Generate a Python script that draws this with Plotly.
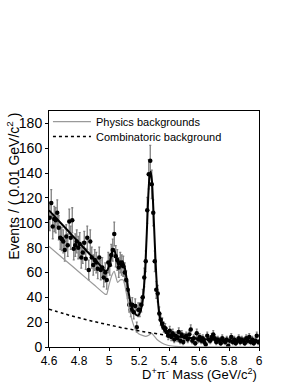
import numpy as np
import plotly.graph_objects as go

# ---- data: D*pi mass spectrum, 0.01 GeV bins from 4.60 to 6.00 ----
bin_lo = 4.60
bin_w = 0.01
counts_a = [104, 116, 97, 103, 102, 108, 96, 88, 87, 85,
            78, 89, 82, 101, 88, 102, 79, 82, 85, 80,
            83, 72, 76, 84, 71, 88, 62, 85, 72, 66,
            70, 68, 63, 72, 62, 64, 56, 60]
counts_b = [54, 68, 66, 74, 78, 91, 73, 70, 64, 68,
            66, 65, 60, 54, 46, 34, 30, 34, 28, 33,
            16, 30, 30, 34, 40, 56, 69, 110, 139, 150,
            131, 108]
counts_c = [69, 46, 43, 27, 22, 19, 16, 15, 12, 9,
            13, 8, 11, 6, 9, 7, 12, 5, 10, 4,
            8, 9, 6, 10, 14, 5, 7, 3, 11, 6,
            8, 5, 7, 4, 2, 9, 6, 5, 8, 10,
            7, 4, 6, 5, 3, 7, 5, 4, 6, 1,
            5, 8, 4, 6, 3, 5, 7, 4, 6, 5,
            3, 7, 5, 8, 4, 6, 3, 5, 9, 4]
counts = np.array(counts_a + counts_b + counts_c, dtype=float)
mass = bin_lo + bin_w * (np.arange(len(counts)) + 0.5)
errors = np.sqrt(counts)

# total fit
fit_x = [4.60, 4.65, 4.70, 4.75, 4.80, 4.85, 4.90, 4.95, 4.975, 4.99,
         5.005, 5.02, 5.033, 5.047, 5.062, 5.078, 5.09, 5.105, 5.12, 5.135,
         5.15, 5.165, 5.18, 5.195, 5.21, 5.225, 5.24, 5.252, 5.262, 5.27,
         5.278, 5.286, 5.295, 5.305, 5.315, 5.325, 5.335, 5.35, 5.37, 5.40,
         5.45, 5.50, 5.60, 5.70, 5.80, 5.90, 6.00]
fit_y = [110, 103.5, 97, 90.5, 84, 77.5, 71, 64.5, 61, 62,
         68, 76, 79, 73, 66, 68, 69, 64, 53, 41,
         33, 28.5, 26, 25.5, 29, 38, 60, 92, 122, 137,
         141, 134, 113, 84, 58, 39, 27, 18, 13, 10.3,
         8.9, 7.9, 6.7, 5.8, 5.1, 4.6, 4.2]

# physics backgrounds
phys_x = [4.60, 4.70, 4.80, 4.90, 4.975, 4.985, 5.00, 5.02, 5.035, 5.045,
          5.058, 5.075, 5.095, 5.11, 5.125, 5.14, 5.16, 5.18, 5.20, 5.22,
          5.245, 5.265, 5.285, 5.30, 5.32, 5.35, 5.38, 5.42, 5.47, 5.55, 6.00]
phys_y = [81, 70.7, 60.4, 50.1, 42.4, 42.5, 50, 58, 61, 57,
          52, 54, 54, 47, 37, 28, 19, 13, 10.5, 9.5,
          8.5, 9.5, 11, 9, 6, 3.5, 1.8, 0.8, 0.3, 0.1, 0.0]

# combinatoric background
comb_x = [4.6, 4.7, 4.8, 4.9, 5.0, 5.1, 5.2, 5.3, 5.4, 5.5, 5.6, 5.7, 5.8, 5.9, 6.0]
comb_y = [30.5, 26.8, 23.5, 20.5, 17.8, 15.2, 13.0, 11.0, 9.3, 7.8, 6.6, 5.7, 5.0, 4.5, 4.1]

x_ticks = [4.6, 4.8, 5.0, 5.2, 5.4, 5.6, 5.8, 6.0]
x_tick_text = ["4.6", "4.8", "5", "5.2", "5.4", "5.6", "5.8", "6"]
y_ticks = [0, 20, 40, 60, 80, 100, 120, 140, 160, 180]

FONT = "Liberation Sans, Arial, Helvetica, sans-serif"

fig = go.Figure()

fig.add_trace(go.Scatter(
    x=mass, y=counts, mode="markers",
    marker=dict(color="black", size=4.5),
    error_y=dict(type="data", array=errors, color="#808080", thickness=1.3, width=1),
    showlegend=False,
))
fig.add_trace(go.Scatter(
    x=phys_x, y=phys_y, mode="lines", name="Physics backgrounds",
    line=dict(color="#9a9a9a", width=1.2, shape="spline", smoothing=0.5),
    legend="legend",
))
fig.add_trace(go.Scatter(
    x=comb_x, y=comb_y, mode="lines", name="Combinatoric background",
    line=dict(color="black", width=1.5, dash="dot", shape="spline"),
    legend="legend2",
))
fig.add_trace(go.Scatter(
    x=fit_x, y=fit_y, mode="lines", showlegend=False,
    line=dict(color="black", width=2, shape="spline", smoothing=0.6),
))

leg_common = dict(xanchor="left", yanchor="middle", bgcolor="rgba(0,0,0,0)",
                  font=dict(size=11, family=FONT), itemwidth=38)
fig.update_layout(
    width=295, height=382,
    margin=dict(l=49, r=36, t=111, b=35),
    paper_bgcolor="white", plot_bgcolor="white",
    font=dict(family=FONT, color="black"),
    legend=dict(x=-0.005, y=0.955, **leg_common),
    legend2=dict(x=-0.005, y=0.892, **leg_common),
)
fig.update_xaxes(
    range=[4.6, 6.0], tickvals=x_ticks, ticktext=x_tick_text,
    showgrid=False, zeroline=False, showline=True, linecolor="black", linewidth=1,
    mirror=True, ticks="outside", ticklen=3, tickcolor="black",
    tickfont=dict(size=12, family=FONT),
)
fig.update_yaxes(
    range=[0, 190], tickvals=y_ticks,
    showgrid=False, zeroline=False, showline=True, linecolor="black", linewidth=1,
    mirror=True, ticks="outside", ticklen=3, tickcolor="black",
    tickfont=dict(size=14, family=FONT),
)
fig.add_annotation(
    text="Events / ( 0.01 GeV/c<sup>2</sup> )", textangle=-90,
    xref="paper", yref="paper", x=-0.175, y=1.0, xanchor="center", yanchor="top",
    showarrow=False, font=dict(size=14, family=FONT),
)
fig.add_annotation(
    text="D<sup>+</sup>π<sup>-</sup> Mass (GeV/c<sup>2</sup>)",
    xref="paper", yref="paper", x=1.0, y=-0.116, xanchor="right", yanchor="middle",
    showarrow=False, font=dict(size=13, family=FONT),
)

fig.write_html(
    "out.html",
    config={"displayModeBar": False},
    post_script="document.body.style.margin='0';document.body.style.overflow='hidden';",
)
